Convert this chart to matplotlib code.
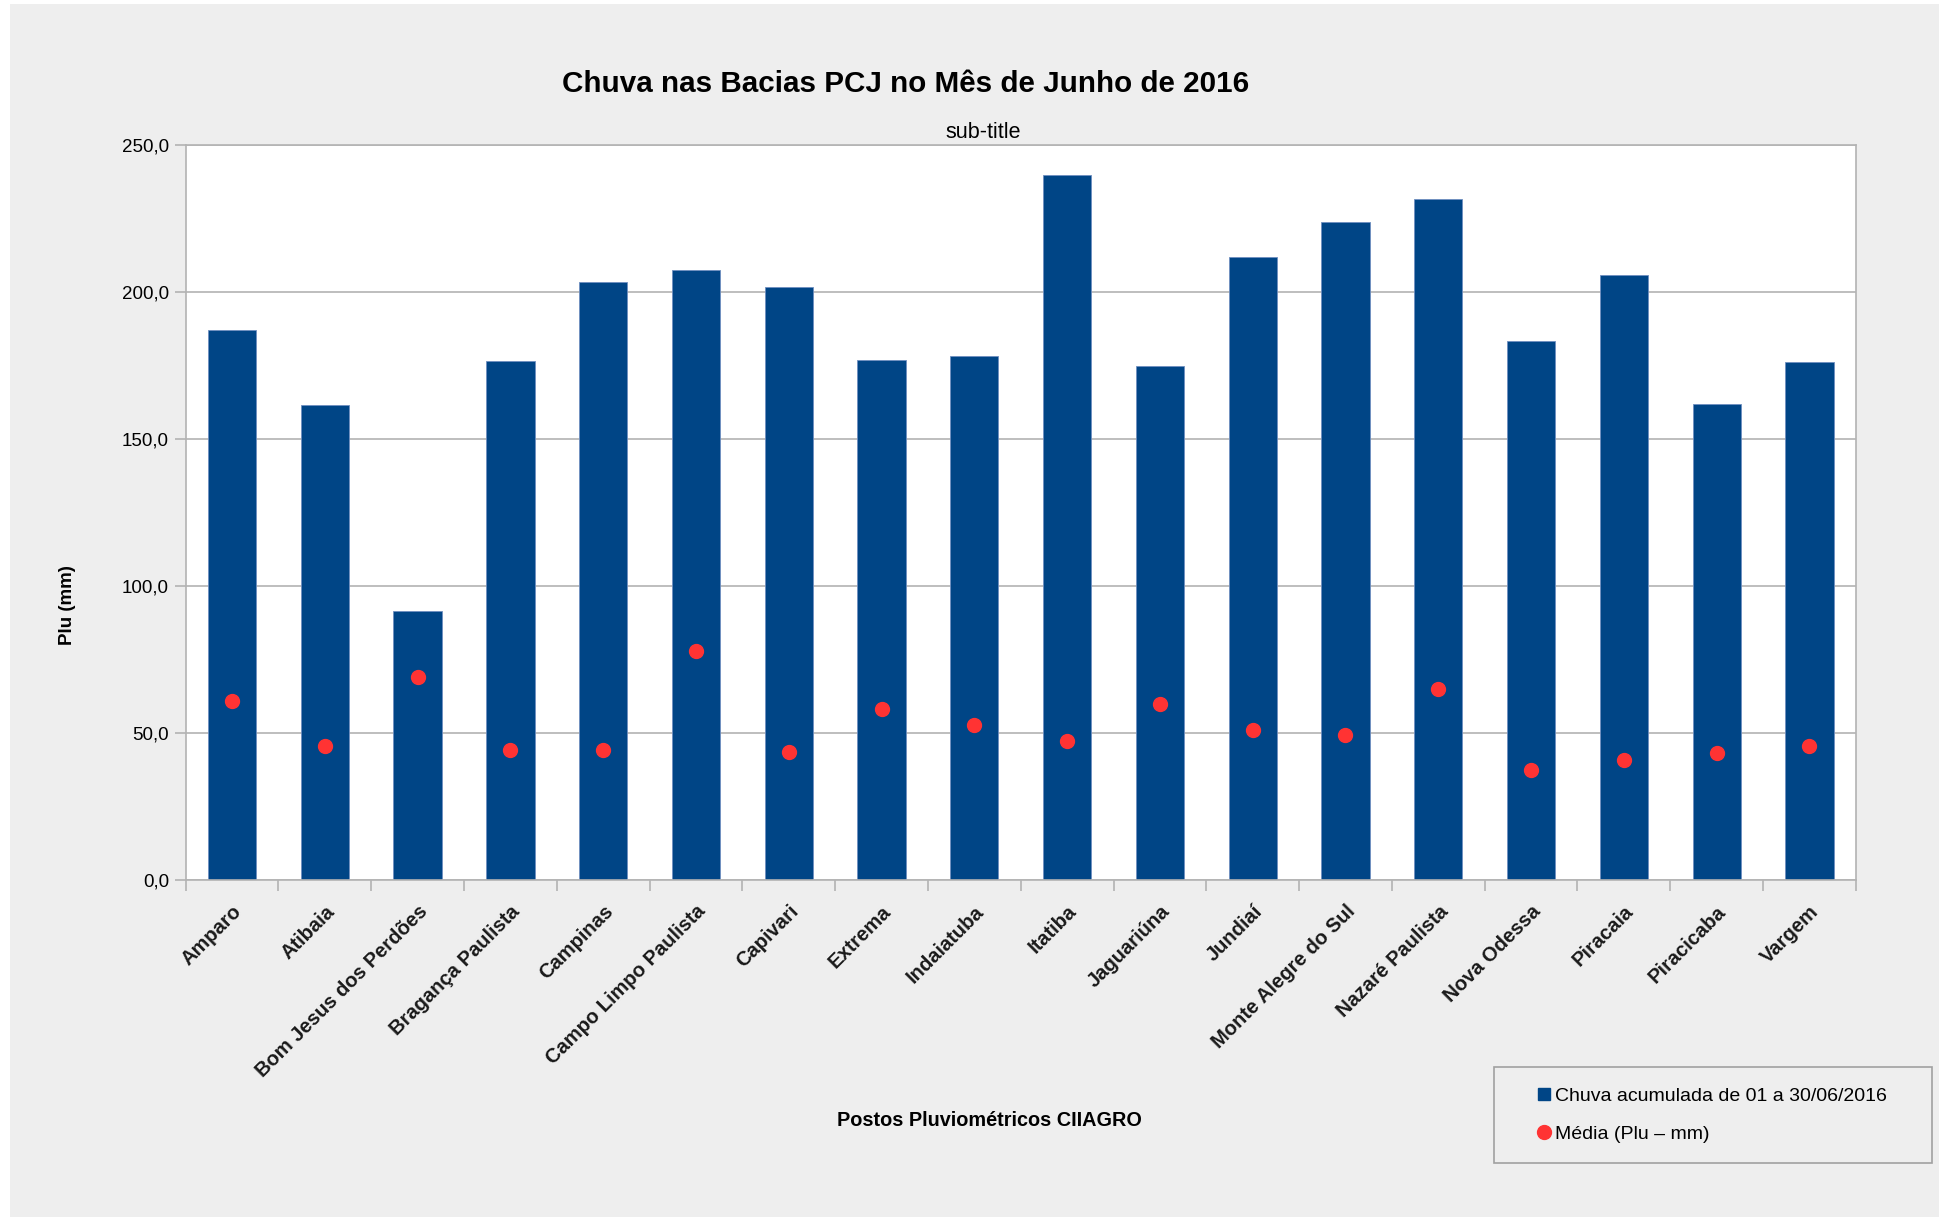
import matplotlib
matplotlib.use("Agg")
import matplotlib.pyplot as plt
from matplotlib.lines import Line2D
from matplotlib.patches import Rectangle
from matplotlib.ticker import FuncFormatter, FixedLocator
import numpy as np

plt.rcParams['font.family'] = ['Liberation Sans', 'DejaVu Sans']

postos = ['Amparo', 'Atibaia', 'Bom Jesus dos Perdões', 'Bragança Paulista',
          'Campinas', 'Campo Limpo Paulista', 'Capivari', 'Extrema',
          'Indaiatuba', 'Itatiba', 'Jaguariúna', 'Jundiaí',
          'Monte Alegre do Sul', 'Nazaré Paulista', 'Nova Odessa',
          'Piracaia', 'Piracicaba', 'Vargem']
chuva = [187.0, 161.3, 91.5, 176.5, 203.2, 207.3, 201.7, 176.9, 178.1,
         239.6, 174.8, 211.9, 223.5, 231.4, 183.3, 205.8, 161.8, 176.1]
media = [60.9, 45.4, 68.9, 44.0, 44.1, 77.7, 43.3, 58.0, 52.6,
         47.1, 59.6, 50.8, 49.2, 64.8, 37.4, 40.7, 43.2, 45.4]

titulo = 'Chuva nas Bacias PCJ no Mês de Junho de 2016'
subtitulo = 'sub-title'
label_barras = 'Chuva acumulada de 01 a 30/06/2016'
label_media = 'Média (Plu – mm)'

azul = '#004586'
vermelho = '#ff3333'
fundo = '#eeeeee'
cinza = '#b3b3b3'

fig = plt.figure(figsize=(19.4, 12.17), dpi=100, facecolor='white')
fig.patches.append(Rectangle((10 / 1940, 0), 1, 1 - 4 / 1217, transform=fig.transFigure,
                             facecolor=fundo, edgecolor='none', zorder=-10))

ax = fig.add_axes([0.0957, 0.2772, 0.8609, 0.604])
ax.set_facecolor('white')

x = np.arange(len(postos))
ax.bar(x, chuva, width=0.52, color=azul, edgecolor='#6f8fc0', linewidth=0.6, zorder=2)
ax.plot(x, media, 'o', color=vermelho, markersize=10, linestyle='none', zorder=3)

ax.set_xlim(-0.5, len(postos) - 0.5)
ax.set_ylim(0, 250)
ax.set_yticks(np.arange(0, 251, 50))
ax.yaxis.set_major_formatter(FuncFormatter(lambda v, p: f'{v:.1f}'.replace('.', ',')))
ax.grid(axis='y', color=cinza, linewidth=1.2, zorder=0)
ax.set_axisbelow(True)

for s in ax.spines.values():
    s.set_color(cinza)
    s.set_linewidth(1.2)

ax.set_xticks(x)
ax.set_xticklabels(postos, rotation=45, ha='right', va='top', rotation_mode='anchor',
                   fontsize=14.5, fontweight='bold', color='#1a1a1a')
ax.xaxis.set_minor_locator(FixedLocator(np.arange(-0.5, len(postos), 1)))
ax.tick_params(axis='x', which='major', length=0, pad=16)
ax.tick_params(axis='x', which='minor', length=8, color=cinza, width=1.2)
ax.tick_params(axis='y', length=8, color=cinza, width=1.2, pad=4, labelsize=13.5)

fig.text(0.467, 0.931, titulo, ha='center', va='center', fontsize=21.3, fontweight='bold')
fig.text(0.507, 0.891, subtitulo, ha='center', va='center', fontsize=15.5)
fig.text(0.035, 0.503, 'Plu (mm)', ha='center', va='center', rotation=90,
         fontsize=13.5, fontweight='bold')
fig.text(0.51, 0.079, 'Postos Pluviométricos CIIAGRO', ha='center', va='center',
         fontsize=14.3, fontweight='bold')

# caixa da legenda
fig.patches.append(Rectangle((0.770, 0.044), 0.226, 0.079, transform=fig.transFigure,
                             facecolor=fundo, edgecolor='#a0a0a0', linewidth=1.2))
handles = [Line2D([], [], marker='s', color=azul, linestyle='none', markersize=9),
           Line2D([], [], marker='o', color=vermelho, linestyle='none', markersize=10)]
fig.legend(handles, [label_barras, label_media], loc='center left',
           bbox_to_anchor=(0.784, 0.0835), frameon=False, fontsize=14,
           handlelength=0.6, handletextpad=0.25, labelspacing=1.05)

fig.savefig('out.png', dpi=100, facecolor=fig.get_facecolor())
